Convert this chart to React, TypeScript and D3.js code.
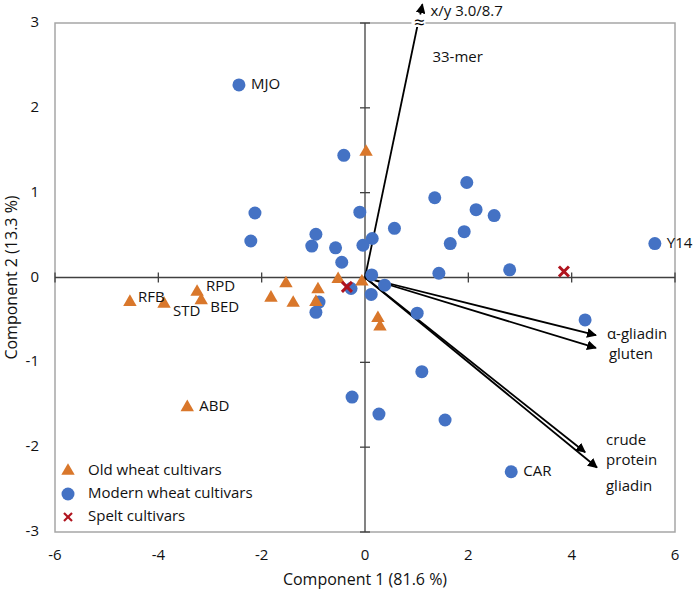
import React from 'react';
import * as d3 from 'd3';

// PCA scores
const oldWheat: [number, number, string?][] = [
  [0.02, 1.48],
  [-4.55, -0.29, 'RFB'],
  [-3.89, -0.31, 'STD'],
  [-3.25, -0.17, 'RPD'],
  [-3.17, -0.27, 'BED'],
  [-3.44, -1.53, 'ABD'],
  [-1.53, -0.07],
  [-0.52, -0.02],
  [-0.06, -0.05],
  [-0.91, -0.14],
  [-1.82, -0.24],
  [-1.39, -0.3],
  [-0.95, -0.29],
  [0.25, -0.48],
  [0.29, -0.58],
];

const modernWheat: [number, number, string?][] = [
  [-2.44, 2.27, 'MJO'],
  [-0.41, 1.44],
  [1.97, 1.12],
  [1.35, 0.94],
  [2.15, 0.8],
  [2.5, 0.73],
  [-2.13, 0.76],
  [-2.21, 0.43],
  [-0.95, 0.51],
  [-1.03, 0.37],
  [-0.57, 0.35],
  [-0.1, 0.77],
  [0.57, 0.58],
  [1.65, 0.4],
  [1.92, 0.54],
  [0.14, 0.46],
  [-0.04, 0.38],
  [-0.45, 0.18],
  [0.13, 0.03],
  [1.43, 0.05],
  [2.8, 0.09],
  [5.61, 0.4, 'Y14'],
  [-0.27, -0.13],
  [0.12, -0.2],
  [-0.89, -0.29],
  [-0.95, -0.41],
  [0.38, -0.09],
  [1.01, -0.42],
  [1.1, -1.11],
  [-0.25, -1.41],
  [0.27, -1.61],
  [1.55, -1.68],
  [2.83, -2.29, 'CAR'],
  [4.26, -0.5],
];

const spelt: [number, number][] = [
  [-0.35, -0.11],
  [3.85, 0.07],
];

// loadings (arrows from origin)
const loadingNames = ['α-gliadin', 'gluten', 'crude protein', 'gliadin'];
const loadingX = [4.47, 4.47, 4.26, 4.49];
const loadingY = [-0.68, -0.83, -2.06, -2.24];
const merVector = [3.0, 8.7];

const xTicks = [-6, -4, -2, 0, 2, 4, 6];
const yTicks = [-3, -2, -1, 0, 1, 2, 3];

const W = 700;
const H = 592;
const plot = { left: 55, right: 675, top: 23, bottom: 532 };
const font = "'Open Sans', sans-serif";
const BLUE = '#4472C4';
const ORANGE = '#D9772B';
const RED = '#B0141E';

const labelOffset: Record<string, [number, number]> = {
  RFB: [8, -4],
  STD: [9, 8],
  RPD: [9, -5],
  BED: [9, 8],
  ABD: [12, 0],
  MJO: [12, 0],
  Y14: [12, 0],
  CAR: [12, 0],
};

export default function App() {
  const x = d3.scaleLinear().domain([-6, 6]).range([plot.left, plot.right]);
  const y = d3.scaleLinear().domain([-3, 3]).range([plot.bottom, plot.top]);
  const tri = d3.symbol().type(d3.symbolTriangle).size(78)();
  const x0 = x(0);
  const y0 = y(0);

  // 33-mer arrow clipped at the top of the frame
  const slope = merVector[0] / merVector[1];
  const topX = x(3 * slope);
  const tipY = 3.22;

  const pointLabel = (d: [number, number, string?], i: number) =>
    d[2] ? (
      <text
        key={'l' + i}
        x={x(d[0]) + labelOffset[d[2]][0]}
        y={y(d[1]) + labelOffset[d[2]][1]}
        dominantBaseline="middle"
        fontSize={15}
        fill="#111"
      >
        {d[2]}
      </text>
    ) : null;

  return (
    <svg width={W} height={H} style={{ position: 'absolute', left: 0, top: 0, background: '#fff' }} fontFamily={font}>
      <defs>
        <marker id="ah" viewBox="0 0 10 10" refX="9" refY="5" markerWidth="5.5" markerHeight="5.5" orient="auto">
          <path d="M0,0 L10,5 L0,10 z" fill="#000" />
        </marker>
      </defs>

      {/* frame */}
      <rect
        x={plot.left}
        y={plot.top}
        width={plot.right - plot.left}
        height={plot.bottom - plot.top}
        fill="none"
        stroke="#A6A6A6"
        strokeWidth={1.5}
      />

      {/* axes through origin */}
      <line x1={x(-6)} x2={x(6)} y1={y0} y2={y0} stroke="#404040" strokeWidth={1.3} />
      <line x1={x0} x2={x0} y1={y(-3)} y2={y(3)} stroke="#404040" strokeWidth={1.3} />
      {xTicks.map((t) => (
        <line key={'xt' + t} x1={x(t)} x2={x(t)} y1={y0 - 5} y2={y0 + 5} stroke="#404040" strokeWidth={1.3} />
      ))}
      {yTicks.map((t) => (
        <line key={'yt' + t} x1={x0 - 5} x2={x0 + 5} y1={y(t)} y2={y(t)} stroke="#404040" strokeWidth={1.3} />
      ))}

      {/* tick labels */}
      {xTicks.map((t) => (
        <text key={'xl' + t} x={x(t)} y={plot.bottom + 24} textAnchor="middle" dominantBaseline="middle" fontSize={15} fill="#111">
          {t}
        </text>
      ))}
      {yTicks.map((t) => (
        <text key={'yl' + t} x={plot.left - 16} y={y(t)} textAnchor="end" dominantBaseline="middle" fontSize={15} fill="#111">
          {t}
        </text>
      ))}

      {/* axis titles */}
      <text x={x(0)} y={581} textAnchor="middle" dominantBaseline="middle" fontSize={16} fill="#111">
        Component 1 (81.6 %)
      </text>
      <text
        transform={`translate(13,${y(0)}) rotate(-90)`}
        textAnchor="middle"
        dominantBaseline="middle"
        fontSize={16}
        fill="#111"
      >
        Component 2 (13.3 %)
      </text>

      {/* loading arrows */}
      {loadingNames.map((n, i) => (
        <line
          key={n}
          x1={x0}
          y1={y0}
          x2={x(loadingX[i])}
          y2={y(loadingY[i])}
          stroke="#000"
          strokeWidth={1.8}
          markerEnd="url(#ah)"
        />
      ))}
      <line x1={x0} y1={y0} x2={topX} y2={y(3) - 2} stroke="#000" strokeWidth={1.8} />
      <rect x={topX - 7} y={y(3) - 4} width={14} height={8} fill="#fff" />
      <text x={topX + 1} y={y(3) + 1} textAnchor="middle" dominantBaseline="middle" fontSize={19} fill="#000">
        ≈
      </text>
      <line
        x1={x(3.1 * slope)}
        y1={y(3.1)}
        x2={x(tipY * slope)}
        y2={y(tipY)}
        stroke="#000"
        strokeWidth={1.8}
        markerEnd="url(#ah)"
      />

      {/* loading labels */}
      <text x={x(3 * slope) + 12} y={12} dominantBaseline="middle" fontSize={15} fill="#111">x/y 3.0/8.7</text>
      <text x={x(3 * slope) + 14} y={58} dominantBaseline="middle" fontSize={15} fill="#111">33-mer</text>
      <text x={x(loadingX[0]) + 11} y={y(loadingY[0])} dominantBaseline="middle" fontSize={15} fill="#111">α-gliadin</text>
      <text x={x(loadingX[1]) + 13} y={y(loadingY[1]) + 7} dominantBaseline="middle" fontSize={15} fill="#111">gluten</text>
      <text x={x(loadingX[2]) + 21} y={y(loadingY[2]) - 11} dominantBaseline="middle" fontSize={15} fill="#111">crude</text>
      <text x={x(loadingX[2]) + 21} y={y(loadingY[2]) + 9} dominantBaseline="middle" fontSize={15} fill="#111">protein</text>
      <text x={x(loadingX[3]) + 9} y={y(loadingY[3]) + 19} dominantBaseline="middle" fontSize={15} fill="#111">gliadin</text>

      {/* points */}
      {modernWheat.map((d, i) => (
        <circle key={'m' + i} cx={x(d[0])} cy={y(d[1])} r={6.5} fill={BLUE} />
      ))}
      {oldWheat.map((d, i) => (
        <path key={'o' + i} d={tri!} transform={`translate(${x(d[0])},${y(d[1])})`} fill={ORANGE} />
      ))}
      {spelt.map((d, i) => (
        <g key={'s' + i} transform={`translate(${x(d[0])},${y(d[1])})`} stroke={RED} strokeWidth={3}>
          <line x1={-5} y1={-5} x2={5} y2={5} />
          <line x1={-5} y1={5} x2={5} y2={-5} />
        </g>
      ))}
      {oldWheat.map(pointLabel)}
      {modernWheat.map(pointLabel)}

      {/* legend */}
      <g fontSize={15} fill="#111">
        <path d={tri!} transform="translate(68,471)" fill={ORANGE} />
        <text x={88} y={471} dominantBaseline="middle">Old wheat cultivars</text>
        <circle cx={68} cy={494} r={6.5} fill={BLUE} />
        <text x={88} y={494} dominantBaseline="middle">Modern wheat cultivars</text>
        <g transform="translate(68,517)" stroke={RED} strokeWidth={2.2}>
          <line x1={-4} y1={-4} x2={4} y2={4} />
          <line x1={-4} y1={4} x2={4} y2={-4} />
        </g>
        <text x={88} y={517} dominantBaseline="middle">Spelt cultivars</text>
      </g>
    </svg>
  );
}
